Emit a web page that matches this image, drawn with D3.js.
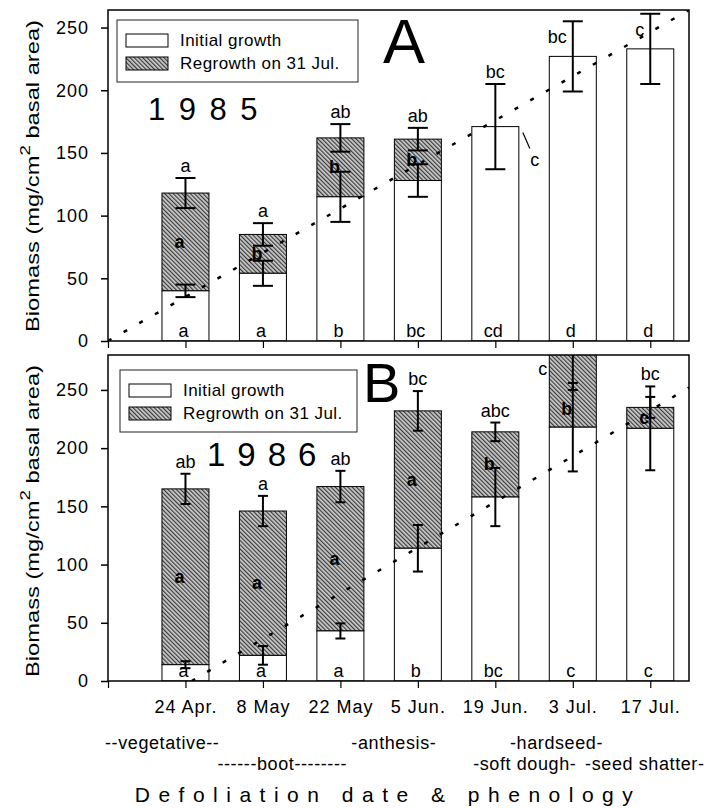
<!DOCTYPE html>
<html>
<head>
<meta charset="utf-8">
<script src="https://cdn.jsdelivr.net/npm/d3@7"></script>
<style>
  body { margin: 0; background: #fff; }
  svg { font-family: "Liberation Sans", Arial, sans-serif; }
</style>
</head>
<body>
<svg id="chart" width="710" height="808"></svg>
<script>
// defoliation dates (x categories)
var dates = ["24 Apr.", "8 May", "22 May", "5 Jun.", "19 Jun.", "3 Jul.", "17 Jul."];
var yTicks = [0, 50, 100, 150, 200, 250];
var legendLabels = ["Initial growth", "Regrowth on 31 Jul."];

// 1985
var init85 = [40, 54, 115, 128, 171, 227, 233];
var initErr85 = [5, 10, 20, 13, 34, 28, 28];
var total85 = [118, 85, 162, 161, null, null, null];
var totalErr85 = [12, 9, 11, 9, null, null, null];
var topLet85 = ["a", "a", "ab", "ab", "bc", "bc", "c"];
var midLet85 = ["a", "b", "b", "b", "c", null, null];
var baseLet85 = ["a", "a", "b", "bc", "cd", "d", "d"];
var trend85 = [[0, 0], [7.5, 264]];

// 1986
var init86 = [14, 22, 43, 114, 158, 218, 217];
var initErr86 = [3, 8, 6.5, 20, 25, 38, 36];
var total86 = [165, 146, 167, 232, 214, 285, 235];
var totalErr86 = [13, 13, 13.5, 17, 8, 35, 9];
var topLet86 = ["ab", "a", "ab", "bc", "abc", "c", "bc"];
var midLet86 = ["a", "a", "a", "a", "b", "b", "c"];
var baseLet86 = ["a", "a", "a", "b", "bc", "c", "c"];
var trend86 = [[1.08, 0], [7.5, 252]];

// phenology stages under the axis
var phenology = ["--vegetative--", "------boot--------", "-anthesis-", "-soft dough-", "-hardseed-", "-seed shatter-"];
var phenoRow = [0, 1, 0, 1, 0, 1];
var phenoPos = [0.70, 2.25, 3.69, 5.38, 5.79, 6.93];

var svg = d3.select("#chart");
var x = d3.scaleLinear().domain([0, 7.5]).range([108, 689]);
var barW = 47;

var defs = svg.append("defs");
var hatch = defs.append("pattern").attr("id", "hatch")
    .attr("patternUnits", "userSpaceOnUse")
    .attr("width", 3).attr("height", 3)
    .attr("patternTransform", "rotate(-45)");
hatch.append("rect").attr("width", 3).attr("height", 3).attr("fill", "#cdcdcd");
hatch.append("rect").attr("width", 1.2).attr("height", 3).attr("fill", "#3a3a3a");

function drawPanel(p) {
  var y = d3.scaleLinear().domain([0, p.yMax]).range([p.bottom, p.top]);
  var idx = d3.range(dates.length);
  var g = svg.append("g");

  defs.append("clipPath").attr("id", "clip-" + p.id)
    .append("rect")
    .attr("x", x(0)).attr("y", p.top)
    .attr("width", x(7.5) - x(0)).attr("height", p.bottom - p.top);
  var plot = g.append("g").attr("clip-path", "url(#clip-" + p.id + ")");

  // regrowth bars (stacked on top of initial growth)
  plot.selectAll(".regrowth")
    .data(idx.filter(function(i) { return p.total[i] != null; }))
    .enter().append("rect")
    .attr("x", function(i) { return x(i + 1) - barW / 2; })
    .attr("y", function(i) { return y(p.total[i]); })
    .attr("width", barW)
    .attr("height", function(i) { return y(p.init[i]) - y(p.total[i]); })
    .attr("fill", "url(#hatch)")
    .attr("stroke", "#000").attr("stroke-width", 1);

  plot.selectAll(".initial").data(idx).enter().append("rect")
    .attr("x", function(i) { return x(i + 1) - barW / 2; })
    .attr("y", function(i) { return y(p.init[i]); })
    .attr("width", barW)
    .attr("height", function(i) { return y(0) - y(p.init[i]); })
    .attr("fill", "#fff")
    .attr("stroke", "#000").attr("stroke-width", 1);

  // error bars
  var errs = [];
  idx.forEach(function(i) {
    errs.push({ i: i, v: p.init[i], e: p.initErr[i] });
    if (p.total[i] != null) errs.push({ i: i, v: p.total[i], e: p.totalErr[i] });
  });
  var eb = plot.selectAll(".err").data(errs).enter().append("g")
    .attr("stroke", "#000").attr("stroke-width", 2);
  eb.append("line")
    .attr("x1", function(d) { return x(d.i + 1); })
    .attr("x2", function(d) { return x(d.i + 1); })
    .attr("y1", function(d) { return y(d.v + d.e); })
    .attr("y2", function(d) { return y(d.v - d.e); });
  [1, -1].forEach(function(s) {
    eb.append("line")
      .attr("x1", function(d) { return x(d.i + 1) - p.cap / 2; })
      .attr("x2", function(d) { return x(d.i + 1) + p.cap / 2; })
      .attr("y1", function(d) { return y(d.v + s * d.e); })
      .attr("y2", function(d) { return y(d.v + s * d.e); });
  });

  // dotted trend line
  plot.append("path").datum(p.trend)
    .attr("d", d3.line().x(function(d) { return x(d[0]); }).y(function(d) { return y(d[1]); }))
    .attr("fill", "none").attr("stroke", "#000")
    .attr("stroke-width", 2.5).attr("stroke-dasharray", "4,14");

  // frame
  g.append("rect")
    .attr("x", x(0)).attr("y", p.top)
    .attr("width", x(7.5) - x(0)).attr("height", p.bottom - p.top)
    .attr("fill", "none").attr("stroke", "#000").attr("stroke-width", 1.5);

  // letters of mean separation
  var letters = g.append("g").attr("font-size", "18px").attr("fill", "#000");
  idx.forEach(function(i) {
    var hi = p.init[i] + p.initErr[i];
    if (p.total[i] != null) hi = Math.max(hi, p.total[i] + p.totalErr[i]);
    var yy = y(hi) - 6;
    if (p.total[i] != null && p.total[i] > p.yMax) {
      // bar runs off the top: letter sits left of the bar
      letters.append("text").attr("x", x(i + 1) - barW / 2 - 2).attr("y", p.top + 20)
        .attr("text-anchor", "end").text(p.topLet[i]);
    } else if (yy - 13 < p.top) {
      letters.append("text").attr("x", x(i + 1) - 6).attr("y", Math.max(y(hi), p.top) + 22)
        .attr("text-anchor", "end").text(p.topLet[i]);
    } else {
      letters.append("text").attr("x", x(i + 1)).attr("y", yy)
        .attr("text-anchor", "middle").text(p.topLet[i]);
    }
    letters.append("text").attr("x", x(i + 1) - 2).attr("y", y(0) - 4)
      .attr("text-anchor", "middle").text(p.baseLet[i]);
    if (p.midLet[i] == null) return;
    if (p.total[i] != null) {
      var top = p.total[i] > p.yMax ? p.total[i] - p.totalErr[i] : p.total[i];
      letters.append("text").attr("x", x(i + 1) - 6).attr("y", y((top + p.init[i]) / 2) + 6)
        .attr("text-anchor", "middle").attr("font-weight", "bold").text(p.midLet[i]);
    } else {
      // no regrowth: letter outside with a small pointer
      var bx = x(i + 1) + barW / 2, by = y(p.init[i]);
      letters.append("line").attr("x1", bx + 4).attr("y1", by + 6)
        .attr("x2", bx + 11).attr("y2", by + 22).attr("stroke", "#000").attr("stroke-width", 1.2);
      letters.append("text").attr("x", bx + 16).attr("y", by + 39)
        .attr("text-anchor", "middle").text(p.midLet[i]);
    }
  });

  // y axis
  var yAxis = g.append("g").attr("transform", "translate(" + x(0) + ",0)")
    .call(d3.axisLeft(y).tickValues(yTicks).tickSize(7).tickPadding(12));
  yAxis.select(".domain").remove();
  yAxis.selectAll("line").attr("stroke-width", 1.5);
  yAxis.selectAll("text").attr("font-size", "18px").attr("letter-spacing", "1px")
    .attr("font-family", "Liberation Sans, Arial, sans-serif").attr("fill", "#000");

  // x axis
  var xAxis = g.append("g").attr("transform", "translate(0," + p.bottom + ")")
    .call(d3.axisBottom(x).tickValues(d3.range(0, 8)).tickSize(7).tickPadding(12)
      .tickFormat(function(d) { return p.showDates && d >= 1 ? dates[d - 1] : ""; }));
  xAxis.select(".domain").remove();
  xAxis.selectAll("line").attr("stroke-width", 1.2);
  xAxis.selectAll("text").attr("font-size", "18px").attr("letter-spacing", "1px")
    .attr("font-family", "Liberation Sans, Arial, sans-serif").attr("fill", "#000");

  // y title
  var yt = g.append("text")
    .attr("transform", "translate(39," + p.titleY + ") rotate(-90)")
    .attr("text-anchor", "middle").attr("font-size", "19px")
    .attr("textLength", 312).attr("lengthAdjust", "spacingAndGlyphs");
  yt.append("tspan").text("Biomass (mg/cm");
  yt.append("tspan").attr("font-size", "15px").attr("dy", -9).text("2");
  yt.append("tspan").attr("dy", 9).text(" basal area)");

  // legend
  var lg = g.append("g").attr("transform", "translate(" + p.legX + "," + p.legY + ")");
  lg.append("rect").attr("width", p.legW).attr("height", 62)
    .attr("fill", "#fff").attr("stroke", "#222").attr("stroke-width", 1);
  legendLabels.forEach(function(lab, k) {
    lg.append("rect").attr("x", 9).attr("y", 14 + k * 23).attr("width", 42).attr("height", 13)
      .attr("fill", k === 0 ? "#fff" : "url(#hatch)").attr("stroke", "#000").attr("stroke-width", 1);
    lg.append("text").attr("x", 63).attr("y", 26 + k * 23)
      .attr("font-size", "17px").attr("letter-spacing", "0.45px").text(lab);
  });

  // panel letter and year
  g.append("text").attr("x", p.bigX).attr("y", p.bigY)
    .attr("font-size", p.bigSize + "px").text(p.id);
  g.append("text").attr("x", p.yearX).attr("y", p.yearY)
    .attr("font-size", p.yearSize + "px").attr("letter-spacing", p.yearSpace + "px").text(p.year);
}

drawPanel({
  id: "A", year: "1985", top: 10, bottom: 341, yMax: 264, cap: 20,
  init: init85, initErr: initErr85, total: total85, totalErr: totalErr85,
  topLet: topLet85, midLet: midLet85, baseLet: baseLet85, trend: trend85,
  showDates: false, titleY: 176,
  legX: 117, legY: 20, legW: 241,
  bigX: 383, bigY: 63, bigSize: 63,
  yearX: 148, yearY: 120, yearSize: 31, yearSpace: 13.5
});

drawPanel({
  id: "B", year: "1986", top: 355, bottom: 681, yMax: 280, cap: 10,
  init: init86, initErr: initErr86, total: total86, totalErr: totalErr86,
  topLet: topLet86, midLet: midLet86, baseLet: baseLet86, trend: trend86,
  showDates: true, titleY: 521,
  legX: 120, legY: 370, legW: 237,
  bigX: 363, bigY: 402, bigSize: 56,
  yearX: 207, yearY: 466, yearSize: 33, yearSpace: 12
});

// phenology rows
svg.append("g").selectAll("text").data(phenology).enter().append("text")
  .attr("x", function(d, k) { return x(phenoPos[k]); })
  .attr("y", function(d, k) { return 749 + phenoRow[k] * 21; })
  .attr("text-anchor", "middle").attr("font-size", "18px").attr("letter-spacing", "0.6px")
  .text(function(d) { return d; });

svg.append("text").attr("x", 388).attr("y", 802)
  .attr("text-anchor", "middle").attr("font-size", "21px").attr("letter-spacing", "8.5px")
  .text("Defoliation date & phenology");
</script>
</body>
</html>
